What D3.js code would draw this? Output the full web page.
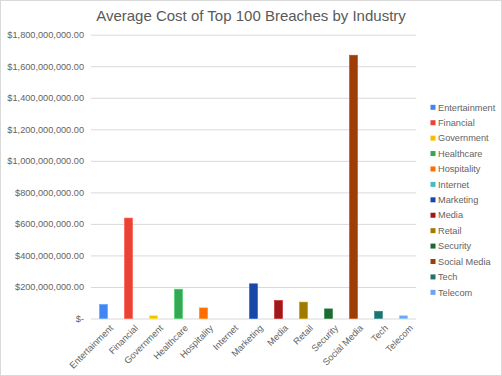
<!DOCTYPE html>
<html><head><meta charset="utf-8">
<script src="https://cdn.jsdelivr.net/npm/d3@7"></script>
<style>
body{margin:0;background:#fff;}
svg{display:block;font-family:Arial,"Liberation Sans",sans-serif;}
</style></head>
<body>
<svg id="chart" width="502" height="376"></svg>
<script>
const categories = ["Entertainment","Financial","Government","Healthcare","Hospitality","Internet","Marketing","Media","Retail","Security","Social Media","Tech","Telecom"];
const values = [89e6, 637e6, 17e6, 186e6, 67e6, 0, 220e6, 114e6, 104e6, 61e6, 1670e6, 46e6, 17e6];
const colors = ["#4285F4","#EA4335","#FBBC04","#34A853","#FF6D01","#46BDC6","#1848A8","#A0191A","#A07B00","#1E6A32","#9E3D05","#21716F","#6EA2F7"];
const yTicks = [0,200e6,400e6,600e6,800e6,1000e6,1200e6,1400e6,1600e6,1800e6];
const title = "Average Cost of Top 100 Breaches by Industry";

const svg = d3.select("#chart");
const W = 502, H = 376;
const pLeft = 91, pRight = 416, pTop = 34.7, pBottom = 318.5;
const txt = "#636363";

svg.append("rect").attr("x",0.5).attr("y",0.5).attr("width",W-1).attr("height",H-1)
  .attr("fill","#fff").attr("stroke","#d9d9d9");

svg.append("text").attr("x",251).attr("y",21).attr("text-anchor","middle")
  .attr("font-size",15).attr("fill","#595959").text(title);

const x = d3.scaleBand().domain(categories).range([pLeft,pRight]).paddingInner(0.68).paddingOuter(0.34);
const y = d3.scaleLinear().domain([0,1800e6]).range([pBottom,pTop]);

const fmt = v => v===0 ? "$-" : "$" + d3.format(",.2f")(v);

const yAxis = d3.axisLeft(y).tickValues(yTicks).tickFormat(fmt).tickSize(-(pRight-pLeft)).tickPadding(7);
const gy = svg.append("g").attr("transform",`translate(${pLeft},0)`).call(yAxis);
gy.select(".domain").remove();
gy.selectAll(".tick line").attr("stroke","#d9d9d9").attr("stroke-width",1);
gy.selectAll(".tick text").attr("font-size",9.2).attr("fill",txt).attr("font-family","Arial, 'Liberation Sans', sans-serif");

svg.append("g").selectAll("rect").data(categories).join("rect")
  .attr("x",d=>x(d)).attr("width",x.bandwidth())
  .attr("y",(d,i)=>y(values[i])).attr("height",(d,i)=>pBottom-y(values[i]))
  .attr("fill",(d,i)=>colors[i])
  .attr("stroke",(d,i)=>d3.color(colors[i]).brighter(0.6))
  .attr("stroke-width",0.6);

const xAxis = d3.axisBottom(x).tickSize(0).tickPadding(6);
const gx = svg.append("g").attr("transform",`translate(0,${pBottom})`).call(xAxis);
gx.select(".domain").remove();
gx.selectAll(".tick text")
  .attr("font-size",9.2).attr("fill",txt).attr("font-family","Arial, 'Liberation Sans', sans-serif")
  .attr("text-anchor","end").attr("dy","0.3em")
  .attr("transform","translate(4,4) rotate(-45)");

const leg = svg.append("g");
const ly0 = 107.3, lstep = 15.42;
categories.forEach((c,i)=>{
  const g = leg.append("g").attr("transform",`translate(430.5,${ly0+i*lstep})`);
  g.append("rect").attr("x",0).attr("y",-2.5).attr("width",5).attr("height",5).attr("fill",colors[i]);
  g.append("text").attr("x",7.5).attr("y",0).attr("dy","0.35em").attr("font-size",9.2)
    .attr("fill",txt).text(c);
});
</script>
</body></html>
